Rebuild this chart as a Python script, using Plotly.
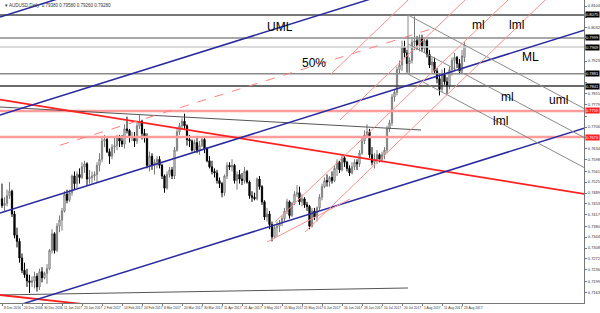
import plotly.graph_objects as go

# ---------------- data ----------------
opens = [
 .7470,.7448,.7455,.7480,.7495,.7420,.7350,.7330,.7275,.7235,
 .7220,.7200,.7195,.7200,.7215,.7180,.7230,.7210,.7225,.7240,
 .7300,.7355,.7300,.7380,.7400,.7430,.7485,.7465,.7490,.7545,
 .7520,.7550,.7540,.7575,.7585,.7535,.7540,.7545,.7550,.7580,
 .7600,.7660,.7665,.7625,.7610,.7640,.7645,.7670,.7660,.7650,
 .7700,.7695,.7670,.7675,.7660,.7710,.7725,.7685,.7670,.7580,
 .7610,.7580,.7590,.7600,.7580,.7545,.7505,.7550,.7565,.7545,
 .7630,.7690,.7710,.7725,.7710,.7665,.7660,.7630,.7655,.7630,
 .7645,.7665,.7635,.7595,.7575,.7560,.7555,.7530,.7520,.7490,
 .7545,.7580,.7575,.7580,.7530,.7550,.7535,.7530,.7560,.7525,
 .7480,.7475,.7470,.7535,.7510,.7460,.7410,.7420,.7385,.7345,
 .7375,.7380,.7390,.7405,.7430,.7460,.7415,.7455,.7485,.7490,
 .7460,.7470,.7450,.7445,.7380,.7430,.7410,.7440,.7475,.7510,
 .7530,.7525,.7540,.7530,.7570,.7590,.7565,.7605,.7590,.7570,
 .7555,.7575,.7590,.7585,.7620,.7660,.7680,.7690,.7615,.7590,
 .7600,.7615,.7600,.7615,.7630,.7700,.7720,.7805,.7820,.7895,
 .7910,.7970,.7950,.7915,.7925,.7985,.7990,.7975,.8000,.7965,
 .7990,.7945,.7910,.7920,.7890,.7865,.7830,.7880,.7855,.7840,
 .7895,.7925,.7935,.7915,.7890,.7935]
highs = [
 .7520,.7475,.7500,.7525,.7500,.7430,.7375,.7340,.7290,.7260,
 .7240,.7220,.7215,.7230,.7225,.7240,.7245,.7230,.7255,.7305,
 .7370,.7360,.7390,.7415,.7440,.7495,.7500,.7500,.7550,.7560,
 .7560,.7570,.7590,.7595,.7590,.7565,.7560,.7560,.7590,.7620,
 .7670,.7680,.7670,.7635,.7650,.7670,.7680,.7680,.7680,.7715,
 .7740,.7700,.7690,.7690,.7720,.7745,.7730,.7700,.7685,.7625,
 .7620,.7600,.7610,.7610,.7585,.7550,.7560,.7575,.7575,.7640,
 .7700,.7720,.7735,.7750,.7715,.7680,.7665,.7665,.7670,.7660,
 .7675,.7670,.7640,.7610,.7595,.7570,.7565,.7540,.7525,.7550,
 .7590,.7590,.7600,.7585,.7560,.7565,.7555,.7575,.7565,.7530,
 .7495,.7490,.7540,.7545,.7515,.7465,.7440,.7430,.7395,.7385,
 .7395,.7400,.7415,.7440,.7470,.7465,.7460,.7495,.7515,.7510,
 .7485,.7475,.7460,.7450,.7440,.7440,.7445,.7485,.7520,.7540,
 .7550,.7545,.7560,.7580,.7600,.7595,.7615,.7610,.7595,.7580,
 .7590,.7600,.7600,.7630,.7670,.7695,.7715,.7700,.7640,.7620,
 .7630,.7620,.7625,.7640,.7710,.7730,.7815,.7830,.7905,.7925,
 .7990,.7990,.7960,.7935,.8000,.8070,.8005,.8010,.8010,.8000,
 .7995,.7960,.7935,.7935,.7900,.7880,.7895,.7900,.7870,.7905,
 .7935,.7950,.7940,.7930,.7960,.7985]
lows = [
 .7440,.7430,.7445,.7470,.7410,.7340,.7310,.7260,.7225,.7210,
 .7180,.7160,.7180,.7175,.7165,.7170,.7195,.7205,.7190,.7235,
 .7290,.7290,.7295,.7360,.7365,.7425,.7455,.7460,.7480,.7500,
 .7505,.7520,.7535,.7555,.7515,.7520,.7520,.7530,.7525,.7560,
 .7590,.7640,.7620,.7585,.7600,.7620,.7630,.7640,.7640,.7635,
 .7685,.7655,.7660,.7640,.7650,.7700,.7665,.7655,.7570,.7560,
 .7565,.7550,.7570,.7570,.7535,.7490,.7500,.7540,.7535,.7535,
 .7625,.7680,.7700,.7700,.7645,.7640,.7625,.7620,.7620,.7615,
 .7640,.7620,.7590,.7570,.7550,.7540,.7520,.7505,.7475,.7480,
 .7535,.7565,.7560,.7520,.7500,.7520,.7515,.7520,.7520,.7470,
 .7460,.7465,.7465,.7500,.7450,.7400,.7395,.7370,.7330,.7340,
 .7345,.7360,.7380,.7395,.7420,.7405,.7410,.7450,.7475,.7450,
 .7445,.7440,.7430,.7370,.7375,.7400,.7395,.7430,.7465,.7505,
 .7510,.7510,.7520,.7525,.7545,.7555,.7560,.7575,.7560,.7545,
 .7550,.7565,.7565,.7575,.7615,.7650,.7670,.7605,.7580,.7570,
 .7585,.7590,.7590,.7600,.7620,.7690,.7710,.7790,.7810,.7880,
 .7890,.7935,.7885,.7885,.7915,.7960,.7960,.7955,.7955,.7950,
 .7935,.7900,.7885,.7880,.7850,.7810,.7820,.7845,.7815,.7830,
 .7875,.7890,.7900,.7880,.7880,.7920]
closes = [
 .7448,.7455,.7480,.7495,.7420,.7350,.7330,.7275,.7235,.7220,
 .7200,.7195,.7200,.7215,.7180,.7230,.7210,.7225,.7240,.7300,
 .7355,.7300,.7380,.7400,.7430,.7485,.7465,.7490,.7545,.7520,
 .7550,.7540,.7575,.7585,.7535,.7540,.7545,.7550,.7580,.7600,
 .7660,.7665,.7625,.7610,.7640,.7645,.7670,.7660,.7650,.7700,
 .7695,.7670,.7675,.7660,.7710,.7725,.7685,.7670,.7580,.7610,
 .7580,.7590,.7600,.7580,.7545,.7505,.7550,.7565,.7545,.7630,
 .7690,.7710,.7725,.7710,.7665,.7660,.7630,.7655,.7630,.7645,
 .7665,.7635,.7595,.7575,.7560,.7555,.7530,.7520,.7490,.7545,
 .7580,.7575,.7580,.7530,.7550,.7535,.7530,.7560,.7525,.7480,
 .7475,.7470,.7535,.7510,.7460,.7410,.7420,.7385,.7345,.7375,
 .7380,.7390,.7405,.7430,.7460,.7415,.7455,.7485,.7490,.7460,
 .7470,.7450,.7445,.7380,.7430,.7410,.7440,.7475,.7510,.7530,
 .7525,.7540,.7530,.7570,.7590,.7565,.7605,.7590,.7570,.7555,
 .7575,.7590,.7585,.7620,.7660,.7680,.7690,.7615,.7590,.7600,
 .7615,.7600,.7615,.7630,.7700,.7720,.7805,.7820,.7895,.7910,
 .7970,.7950,.7915,.7925,.7985,.7990,.7975,.8000,.7965,.7990,
 .7945,.7910,.7920,.7890,.7865,.7830,.7880,.7855,.7840,.7895,
 .7925,.7935,.7915,.7890,.7940,.7975]

date_tick_bars = [0, 8, 16, 24, 32, 40, 48, 56, 64, 72, 80, 88,
                  96, 104, 112, 120, 128, 136, 144, 152, 160, 168, 176, 184]
date_tick_text = ["8 Dec 2016", "20 Dec 2016", "30 Dec 2016", "11 Jan 2017",
                  "23 Jan 2017", "2 Feb 2017", "14 Feb 2017", "24 Feb 2017",
                  "8 Mar 2017", "20 Mar 2017", "30 Mar 2017", "11 Apr 2017",
                  "21 Apr 2017", "3 May 2017", "15 May 2017", "25 May 2017",
                  "6 Jun 2017", "16 Jun 2017", "28 Jun 2017", "10 Jul 2017",
                  "20 Jul 2017", "1 Aug 2017", "11 Aug 2017", "23 Aug 2017"]

price_ticks = [0.7127, 0.7163, 0.7199, 0.7236, 0.7272, 0.7308, 0.7344,
               0.7380, 0.7417, 0.7453, 0.7489, 0.7525, 0.7561, 0.7598,
               0.7634, 0.7670, 0.7706, 0.7742, 0.7779, 0.7815, 0.7851,
               0.7887, 0.7923, 0.7960, 0.7996, 0.8032, 0.8068, 0.8104]

# horizontal levels
gray_levels = [0.8075, 0.7999, 0.7969, 0.7881, 0.7841]
gray_level_colors = ["#4a4a4a", "#8a8a8a", "#cfcfcf", "#8a8a8a", "#3a3a3a"]
red_levels = [0.7759, 0.7673]

# blue channel (bar, price) endpoints
blue_x = [-0.8, 233.2]
blue_uml2 = [0.80681, 0.86705]
blue_uml = [0.77457, 0.83480]
blue_ml = [0.74232, 0.80256]
blue_lml = [0.71008, 0.77032]
fifty_x = [23.2, 171.2]
fifty_y = [0.76463, 0.80273]

# red trend lines
red_x = [-0.8, 233.2]
red_main = [0.77963, 0.74857]
red_low = [0.71535, 0.69429]

# gray trend lines
gray_top_x = [-0.8, 167.6]
gray_top_y = [0.77720, 0.76963]
gray_bot_x = [-0.8, 162.4]
gray_bot_y = [0.71535, 0.71765]

# gray pitchfork
gpf_x = [162.4, 233.2]
gpf_upper = [0.80747, 0.77654]
gpf_ml = [0.79792, 0.76700]
gpf_lml = [0.78805, 0.75713]

# pink pitchfork
pk_ml_x = [109.2, 202.4]
pk_ml_y = [0.73936, 0.81240]
pk_lml_x = [121.2, 217.2]
pk_lml_y = [0.73607, 0.81240]
pk_u1_x = [135.2, 185.2]
pk_u1_y = [0.77292, 0.81240]
pk_u2_x = [131.2, 162.4]
pk_u2_y = [0.78773, 0.81240]
pk_h_x = [106.0, 139.2]
pk_h_y = [0.73278, 0.74693]

Y_MIN, Y_MAX = 0.712713, 0.81240
X_MIN, X_MAX = -0.8, 232.8

fig = go.Figure()
idx = list(range(len(closes)))
fig.add_trace(go.Candlestick(
    x=idx, open=opens, high=highs, low=lows, close=closes,
    increasing=dict(line=dict(color="#7a7a7a", width=1), fillcolor="white"),
    decreasing=dict(line=dict(color="#000000", width=1), fillcolor="black"),
    whiskerwidth=0, showlegend=False, hoverinfo="skip"))


def seg(xs, ys, color, width, dash="solid"):
    fig.add_trace(go.Scatter(x=xs, y=ys, mode="lines",
                             line=dict(color=color, width=width, dash=dash),
                             showlegend=False, hoverinfo="skip"))


for lv, c in zip(gray_levels, gray_level_colors):
    seg([X_MIN, X_MAX], [lv, lv], c, 1.5)
for lv in red_levels:
    seg([X_MIN, X_MAX], [lv, lv], "#ff9c9c", 2.5)

seg(gray_top_x, gray_top_y, "#555555", 1)
seg(gray_bot_x, gray_bot_y, "#555555", 1)
seg(red_x, red_main, "#ff2020", 1.8)
seg(red_x, red_low, "#ff2020", 1.8)

for ys in (blue_uml2, blue_uml, blue_ml, blue_lml):
    seg(blue_x, ys, "#2a2aa0", 1.5)
seg(fifty_x, fifty_y, "#ff8080", 1, "dash")

seg(gpf_x, gpf_upper, "#8a8a8a", 1)
seg(gpf_x, gpf_ml, "#8a8a8a", 1)
seg(gpf_x, gpf_lml, "#8a8a8a", 1)
seg([gpf_x[0], gpf_x[0]], [gpf_upper[0], gpf_lml[0]], "#8a8a8a", 1)

seg(pk_ml_x, pk_ml_y, "#ff9090", 1)
seg(pk_lml_x, pk_lml_y, "#ff9090", 1)
seg(pk_u1_x, pk_u1_y, "#ff9090", 1)
seg(pk_u2_x, pk_u2_y, "#ff9090", 1)
seg(pk_h_x, pk_h_y, "#ff9090", 1)

annotations = []
label_font = dict(family="Liberation Sans, Arial", size=12, color="black")
for txt, xb, yp in [("UML", 111.2, 0.80352), ("50%", 124.8, 0.79167),
                    ("ML", 211.2, 0.79365), ("ml", 190.4, 0.80417),
                    ("lml", 205.6, 0.80417), ("ml", 202.0, 0.78050),
                    ("uml", 222.4, 0.77950), ("lml", 199.2, 0.77260)]:
    annotations.append(dict(x=xb, y=yp, text=txt, showarrow=False,
                            font=label_font, xanchor="center", yanchor="middle"))

small = dict(family="Liberation Sans, Arial", size=3.3, color="#333333")
for b, t in zip(date_tick_bars, date_tick_text):
    annotations.append(dict(x=b, y=0, xref="x", yref="paper", text=t,
                            showarrow=False, xanchor="left", yanchor="top",
                            yshift=-1, xshift=0, font=small))

box_font = dict(family="Liberation Sans, Arial", size=4, color="white")
for lv in gray_levels:
    annotations.append(dict(x=1, y=lv, xref="paper", yref="y",
                            text=f"{lv:.4f}", showarrow=False, xanchor="left",
                            yanchor="middle", bgcolor="black", borderpad=0,
                            xshift=1, font=box_font))
for lv in red_levels:
    annotations.append(dict(x=1, y=lv, xref="paper", yref="y",
                            text=f"{lv:.4f}", showarrow=False, xanchor="left",
                            yanchor="middle", bgcolor="#ff2020", borderpad=0,
                            xshift=1, font=box_font))

annotations.append(dict(x=0, y=1, xref="paper", yref="paper",
                        text="▾ AUDUSD,Daily  0.79380 0.79580 0.79260 0.79280",
                        showarrow=False, xanchor="left", yanchor="top",
                        xshift=3, yshift=-1,
                        font=dict(family="Liberation Sans, Arial", size=4.5,
                                  color="#333333")))

# hide axis labels that sit under a boxed level label
boxed = gray_levels + red_levels
tick_text = []
for v in price_ticks:
    near = any(abs(v - lv) < 0.0018 for lv in boxed)
    tick_text.append("" if near else f"{v:.4f}")

fig.update_layout(
    width=600, height=313,
    margin=dict(l=0, r=16, t=0, b=10),
    paper_bgcolor="white", plot_bgcolor="white",
    annotations=annotations,
    xaxis=dict(range=[X_MIN, X_MAX], rangeslider=dict(visible=False),
               showgrid=False, zeroline=False, tickvals=date_tick_bars,
               ticktext=["" for _ in date_tick_bars], ticks="outside",
               ticklen=2, tickcolor="#777777", showline=True,
               linecolor="#777777", linewidth=1, mirror=True, fixedrange=True),
    yaxis=dict(range=[Y_MIN, Y_MAX], side="right", showgrid=False,
               zeroline=False, tickvals=price_ticks, ticktext=tick_text,
               ticks="outside", ticklen=2, tickcolor="#777777",
               ticklabelstandoff=0,
               tickfont=dict(family="Liberation Sans, Arial", size=4,
                             color="#333333"),
               showline=True, linecolor="#777777", linewidth=1, mirror=True,
               automargin=False, fixedrange=True),
)

fig.write_html("out.html")
